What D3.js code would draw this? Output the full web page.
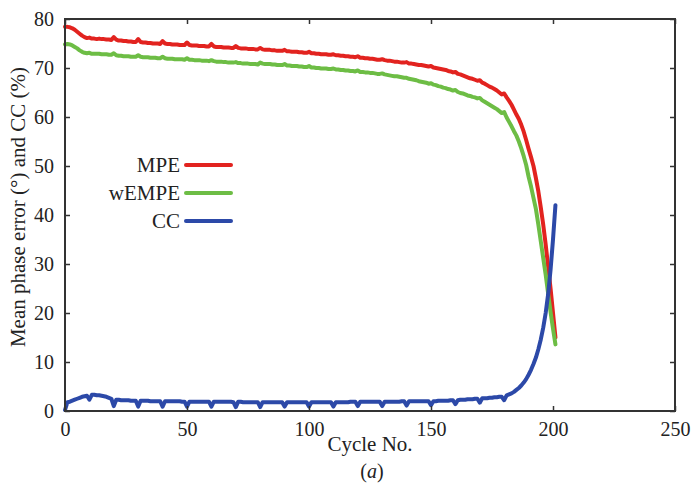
<!DOCTYPE html>
<html><head><meta charset="utf-8">
<script src="https://cdn.jsdelivr.net/npm/d3@7"></script>
<style>
html,body{margin:0;padding:0;background:#fff;}
svg{display:block;}
text{font-family:"Liberation Serif","Times New Roman",serif;fill:#222;}
</style></head>
<body>
<svg id="chart" width="691" height="489"></svg>
<script>
const xTicks = [0, 50, 100, 150, 200, 250];
const yTicks = [0, 10, 20, 30, 40, 50, 60, 70, 80];
const seriesNames = ["MPE", "wEMPE", "CC"];

// cycle numbers 0..201
const cycles = Array.from({length: 202}, (_, i) => i);

const mpe = [
78.4,78.4,78.3,78.1,77.8,77.4,77.0,76.6,76.3,76.1,
76.2,76.0,76.0,75.9,76.0,75.9,75.9,75.8,75.8,75.7,
76.3,75.8,75.6,75.6,75.5,75.5,75.4,75.4,75.3,75.3,
75.9,75.3,75.2,75.2,75.1,75.1,75.0,75.0,75.0,74.9,
75.5,75.0,74.9,74.9,74.8,74.8,74.8,74.7,74.7,74.7,
75.2,74.7,74.6,74.6,74.6,74.5,74.5,74.5,74.4,74.4,
74.9,74.4,74.3,74.3,74.3,74.2,74.2,74.2,74.1,74.1,
74.5,74.1,74.0,74.0,74.0,73.9,73.9,73.9,73.8,73.8,
74.1,73.8,73.7,73.7,73.7,73.6,73.6,73.5,73.5,73.5,
73.7,73.4,73.4,73.3,73.3,73.3,73.2,73.2,73.1,73.1,
73.3,73.0,73.0,72.9,72.9,72.8,72.8,72.8,72.7,72.7,
72.8,72.6,72.6,72.5,72.5,72.4,72.4,72.3,72.3,72.2,
72.4,72.1,72.1,72.0,72.0,71.9,71.9,71.8,71.7,71.7,
71.8,71.6,71.5,71.5,71.4,71.3,71.3,71.2,71.1,71.1,
71.2,70.9,70.9,70.8,70.7,70.6,70.6,70.5,70.4,70.3,
70.4,70.1,70.0,69.9,69.8,69.7,69.6,69.4,69.3,69.1,
69.2,68.8,68.7,68.5,68.3,68.1,67.9,67.8,67.6,67.4,
67.5,67.0,66.8,66.5,66.2,66.0,65.7,65.4,65.0,64.6,
64.8,64.0,63.3,62.5,61.5,60.5,59.6,58.4,57.0,55.3,
53.5,51.8,50.0,47.5,44.8,41.5,38.0,34.0,29.5,25.0,
20.0,15.0];

const wempe = [
74.8,74.9,74.8,74.6,74.3,74.0,73.6,73.3,73.1,73.0,
73.1,72.9,72.9,72.9,72.9,72.8,72.8,72.8,72.7,72.7,
73.0,72.6,72.5,72.5,72.4,72.4,72.4,72.3,72.3,72.3,
72.6,72.3,72.2,72.2,72.2,72.1,72.1,72.1,72.0,72.0,
72.3,72.0,71.9,71.9,71.9,71.8,71.8,71.8,71.8,71.7,
72.0,71.7,71.7,71.6,71.6,71.6,71.5,71.5,71.5,71.4,
71.6,71.4,71.3,71.3,71.3,71.2,71.2,71.1,71.1,71.1,
71.2,71.0,71.0,70.9,70.9,70.9,70.8,70.8,70.8,70.7,
71.1,70.9,70.8,70.8,70.8,70.7,70.7,70.6,70.6,70.6,
70.8,70.5,70.5,70.4,70.4,70.4,70.3,70.3,70.2,70.2,
70.4,70.1,70.1,70.0,70.0,69.9,69.9,69.9,69.8,69.8,
69.9,69.7,69.7,69.6,69.6,69.5,69.5,69.4,69.4,69.3,
69.5,69.2,69.2,69.1,69.1,69.0,69.0,68.9,68.8,68.8,
68.9,68.7,68.6,68.5,68.4,68.3,68.3,68.2,68.1,68.0,
68.0,67.8,67.7,67.6,67.5,67.3,67.2,67.1,67.0,66.8,
66.9,66.6,66.5,66.3,66.2,66.0,65.9,65.7,65.6,65.4,
65.5,65.1,64.9,64.8,64.6,64.4,64.3,64.1,64.0,63.8,
63.9,63.4,63.1,62.8,62.5,62.2,61.9,61.6,61.2,60.8,
61.0,59.9,59.0,58.1,57.1,56.2,55.0,53.6,52.0,50.2,
47.8,45.8,43.5,41.2,38.0,34.6,31.2,27.8,24.0,20.2,
16.8,13.6];

const cc = [
0.2,1.8,1.9,2.1,2.3,2.5,2.7,2.9,3.0,3.1,
2.3,3.3,3.3,3.2,3.2,3.1,3.0,2.9,2.7,2.5,
1.0,2.3,2.3,2.2,2.2,2.2,2.2,2.1,2.1,2.1,
0.9,2.1,2.1,2.1,2.1,2.0,2.0,2.0,2.0,2.0,
0.9,2.0,2.0,2.0,2.0,2.0,2.0,2.0,1.9,1.9,
0.9,1.9,1.9,1.9,1.9,1.9,1.9,1.9,1.9,1.9,
0.9,1.9,1.9,1.9,1.9,1.9,1.9,1.9,1.9,1.8,
0.8,1.9,1.9,1.8,1.8,1.8,1.8,1.8,1.8,1.8,
0.8,1.8,1.8,1.8,1.8,1.8,1.8,1.8,1.8,1.8,
0.9,1.8,1.8,1.8,1.8,1.8,1.8,1.8,1.8,1.8,
0.9,1.8,1.8,1.8,1.8,1.8,1.8,1.8,1.8,1.8,
0.9,1.8,1.8,1.8,1.8,1.8,1.8,1.9,1.9,1.9,
1.0,1.9,1.9,1.9,1.9,1.9,1.9,1.9,1.9,1.9,
1.0,1.9,1.9,1.9,1.9,1.9,1.9,1.9,2.0,2.0,
1.1,2.0,2.0,2.0,2.0,2.0,2.0,2.0,2.0,2.0,
1.2,2.0,2.0,2.1,2.1,2.1,2.1,2.1,2.2,2.2,
1.4,2.2,2.3,2.3,2.3,2.4,2.4,2.4,2.5,2.5,
1.7,2.6,2.6,2.6,2.7,2.7,2.8,2.8,2.9,2.9,
2.2,3.2,3.4,3.6,3.9,4.3,4.7,5.2,5.8,6.5,
7.4,8.4,9.6,10.9,12.6,14.6,17.0,20.0,23.8,28.8,
35.0,42.0];

const colors = {MPE: "#e2231f", wEMPE: "#6dbd45", CC: "#2c49a8"};
const seriesData = {MPE: mpe, wEMPE: wempe, CC: cc};

const svg = d3.select("#chart");
const L = 65, R = 675, T = 19, B = 411;
const x = d3.scaleLinear().domain([0, 250]).range([L, R]);
const y = d3.scaleLinear().domain([0, 80]).range([B, T]);

const fsTick = 20;
const fsTitle = 21;
const axisColor = "#333";

// data lines
const line = d3.line().x((d, i) => x(cycles[i])).y(d => y(d));
for (const name of seriesNames) {
  svg.append("path")
    .datum(seriesData[name])
    .attr("fill", "none")
    .attr("stroke", colors[name])
    .attr("stroke-width", 4)
    .attr("stroke-linejoin", "round")
    .attr("stroke-linecap", "round")
    .attr("d", line);
}

// axes with inward ticks
function styleAxis(g, showText) {
  g.select(".domain").remove();
  g.selectAll(".tick line").attr("stroke", axisColor).attr("stroke-width", 1.5);
  g.selectAll(".tick text").attr("font-size", fsTick).attr("fill", "#222")
    .style("font-family", '"Liberation Serif", serif');
  if (!showText) g.selectAll(".tick text").remove();
}
const gx = svg.append("g").attr("transform", `translate(0,${B})`)
  .call(d3.axisBottom(x).tickValues(xTicks).tickSizeInner(-5).tickSizeOuter(0).tickPadding(11));
styleAxis(gx, true);
const gxt = svg.append("g").attr("transform", `translate(0,${T})`)
  .call(d3.axisTop(x).tickValues(xTicks).tickSizeInner(-5).tickSizeOuter(0));
styleAxis(gxt, false);
const gy = svg.append("g").attr("transform", `translate(${L},0)`)
  .call(d3.axisLeft(y).tickValues(yTicks).tickSizeInner(-5).tickSizeOuter(0).tickPadding(11));
styleAxis(gy, true);
const gyr = svg.append("g").attr("transform", `translate(${R},0)`)
  .call(d3.axisRight(y).tickValues(yTicks).tickSizeInner(-5).tickSizeOuter(0));
styleAxis(gyr, false);

// frame
svg.append("rect").attr("x", L).attr("y", T).attr("width", R - L).attr("height", B - T)
  .attr("fill", "none").attr("stroke", axisColor).attr("stroke-width", 2);

// axis titles
svg.append("text").attr("x", 370).attr("y", 451).attr("text-anchor", "middle")
  .attr("font-size", fsTitle).text("Cycle No.");
svg.append("text").attr("x", 372).attr("y", 478).attr("text-anchor", "middle")
  .attr("font-size", 20).html('(<tspan font-style="italic">a</tspan>)');
svg.append("text").attr("transform", `translate(25,207) rotate(-90)`)
  .attr("text-anchor", "middle").attr("font-size", fsTitle)
  .text("Mean phase error (°) and CC (%)");

// legend
const legendY = [165, 193, 221];
seriesNames.forEach((name, i) => {
  svg.append("text").attr("x", 180).attr("y", legendY[i] + 7).attr("text-anchor", "end")
    .attr("font-size", fsTitle).text(name);
  svg.append("line").attr("x1", 186).attr("x2", 231).attr("y1", legendY[i]).attr("y2", legendY[i])
    .attr("stroke", colors[name]).attr("stroke-width", 4).attr("stroke-linecap", "round");
});
</script>
</body></html>
